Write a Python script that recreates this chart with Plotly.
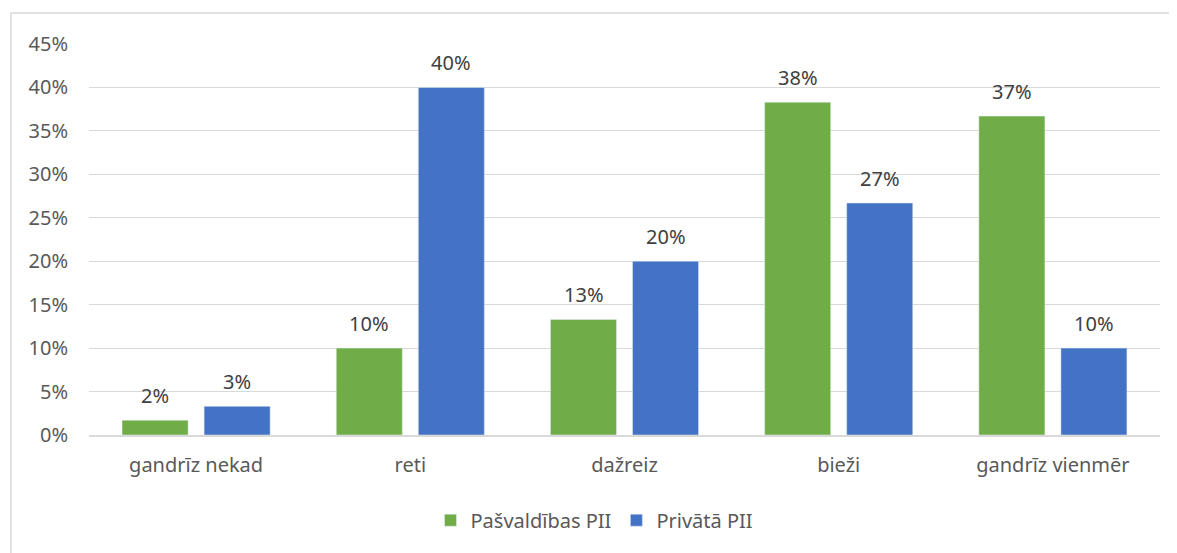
import plotly.graph_objects as go

categories = ["gandrīz nekad", "reti", "dažreiz", "bieži", "gandrīz vienmēr"]
pasvaldibas = [1.7, 10.0, 13.3, 38.3, 36.7]
privata = [3.3, 40.0, 20.0, 26.7, 10.0]
tick_vals = [0, 5, 10, 15, 20, 25, 30, 35, 40, 45]
tick_text = [f"{v}%" for v in tick_vals]

font_family = "Noto Sans, Open Sans, sans-serif"
text_col = "#595959"

fig = go.Figure()
fig.add_trace(go.Bar(name="Pašvaldības PII", x=categories, y=pasvaldibas,
                     marker=dict(color="#70ad47")))
fig.add_trace(go.Bar(name="Privātā PII", x=categories, y=privata,
                     marker=dict(color="#4472c4")))

# value labels above bars (Excel style, a bit higher than plotly's outside text)
for vals, shift in [(pasvaldibas, -41), (privata, 41)]:
    for c, v in zip(categories, vals):
        fig.add_annotation(x=c, y=v, text=f"{v:.0f}%", showarrow=False,
                           xshift=shift, yshift=9, yanchor="bottom",
                           font=dict(size=20, color="#404040"))

fig.update_layout(
    width=1177, height=553,
    margin=dict(l=81, r=25, t=36, b=126),
    plot_bgcolor="white", paper_bgcolor="white",
    font=dict(family=font_family, size=20, color=text_col),
    barmode="group", bargap=0.234, bargroupgap=0.195,
    showlegend=True,
    legend=dict(orientation="h", x=0.472, xanchor="center", y=-0.168, yanchor="top",
                font=dict(size=20, color=text_col)),
    xaxis=dict(showgrid=False, showline=True, linecolor="#d9d9d9", linewidth=1.5,
               ticks="", ticklabelstandoff=11, tickfont=dict(size=20, color=text_col)),
    yaxis=dict(range=[0, 45], tickvals=tick_vals, ticktext=tick_text,
               showgrid=True, gridcolor="#d9d9d9", gridwidth=1, zeroline=False,
               ticks="", ticklabelstandoff=20, tickfont=dict(size=20, color=text_col)),
    shapes=[dict(type="rect", xref="paper", yref="paper",
                 x0=-0.073, x1=1.03, y0=-0.35, y1=1.079,
                 line=dict(color="#d9d9d9", width=1.5), layer="below")],
)

fig.write_html("out.html")
